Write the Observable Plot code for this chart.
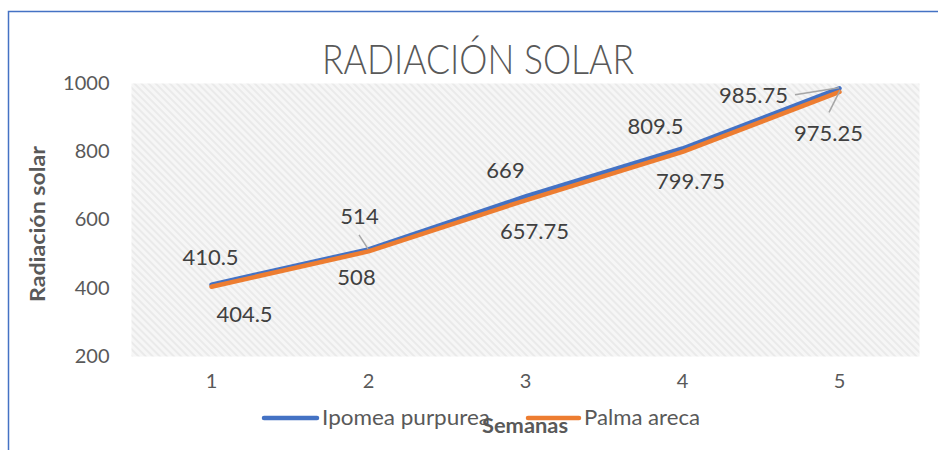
<!DOCTYPE html>
<html><head><meta charset="utf-8">
<script src="https://cdn.jsdelivr.net/npm/d3@7"></script>
<script src="https://cdn.jsdelivr.net/npm/@observablehq/plot@0.6"></script>
<style>
body{margin:0;background:#fff;}
#chart svg{display:block;font-family:Lato, "Open Sans", sans-serif;}
</style></head><body>
<svg width="0" height="0" style="position:absolute">
<defs><pattern id="hatch" width="5" height="5" patternUnits="userSpaceOnUse" patternTransform="rotate(-45)">
<rect width="5" height="5" fill="#f6f6f6"/><rect width="2" height="5" fill="#eaeaea"/></pattern></defs></svg>
<div id="chart"></div>
<script>
const weeks = [1, 2, 3, 4, 5];
const ipomea = [410.5, 514, 669, 809.5, 985.75];
const palma = [404.5, 508, 657.75, 799.75, 975.25];
const yTicks = [200, 400, 600, 800, 1000];
const seriesNames = ["Ipomea purpurea", "Palma areca"];
const colors = ["#4472C4", "#ED7D31"];
const title = "RADIACIÓN SOLAR";
const xTitle = "Semanas";
const yTitle = "Radiación solar";

// label pixel offsets (style only)
const ipomeaOff = [[-1,-27],[-9,-32],[-20,-26],[-27,-22],[-86,8]];
const palmaOff = [[33,28],[-12,27],[9,32],[8,30],[-11,42]];

const idx = weeks.map((_, i) => i);
const rowsA = idx.map(i => ({week: weeks[i], value: ipomea[i]}));
const rowsB = idx.map(i => ({week: weeks[i], value: palma[i]}));

const labelMarks = [];
idx.forEach(i => {
  labelMarks.push(Plot.text([rowsA[i]], {x: "week", y: "value", text: d => String(d.value),
    dx: ipomeaOff[i][0], dy: ipomeaOff[i][1], fill: "#404040", fontSize: 22}));
  labelMarks.push(Plot.text([rowsB[i]], {x: "week", y: "value", text: d => String(d.value),
    dx: palmaOff[i][0], dy: palmaOff[i][1], fill: "#404040", fontSize: 22}));
});

const plot = Plot.plot({
  width: 938, height: 450,
  marginLeft: 131, marginRight: 19, marginTop: 83, marginBottom: 94,
  style: {fontFamily: "Lato, 'Open Sans', sans-serif", fontSize: "20px", color: "#595959", background: "transparent"},
  x: {type: "point", domain: weeks, padding: 0.5, label: null, tickSize: 0, tickPadding: 17},
  y: {domain: [200, 1000], ticks: yTicks, tickFormat: d => String(d), label: null, tickSize: 0, tickPadding: 22},
  marks: [
    Plot.frame({fill: "url(#hatch)", stroke: "none"}),
    Plot.line(rowsA, {x: "week", y: "value", stroke: colors[0], strokeWidth: 4.5, strokeLinecap: "round"}),
    Plot.line(rowsB, {x: "week", y: "value", stroke: colors[1], strokeWidth: 4.5, strokeLinecap: "round"}),
    ...labelMarks
  ]
});
document.getElementById("chart").appendChild(plot);

const svg = d3.select(plot);
const sx = plot.scale("x"), sy = plot.scale("y");
// leader lines: [series, index, startOffset, endOffset]
const leaders = [[ipomea, 1, [-9,-14], [0,0]], [ipomea, 4, [-44,7], [0,0]], [palma, 4, [-10,21], [1,-1]]];
leaders.forEach(([s, i, a, b]) => {
  const px = sx.apply(weeks[i]), py = sy.apply(s[i]);
  svg.append("line").attr("x1", px + a[0]).attr("y1", py + a[1]).attr("x2", px + b[0]).attr("y2", py + b[1])
    .attr("stroke", "#a6a6a6").attr("stroke-width", 1.5);
});

// chart border
svg.append("path").attr("d", "M8.5,450V11.5H938").attr("fill", "none").attr("stroke", "#4472C4").attr("stroke-width", 1.5);

// title
svg.append("text").attr("x", 478).attr("y", 74).attr("text-anchor", "middle")
  .attr("font-size", 42).attr("font-weight", 300).attr("fill", "#595959")
  .attr("textLength", 312).attr("lengthAdjust", "spacingAndGlyphs").text(title);

// y title
svg.append("text").attr("transform", "translate(45,224) rotate(-90)").attr("text-anchor", "middle")
  .attr("font-size", 21).attr("font-weight", "bold").attr("fill", "#595959")
  .attr("textLength", 156).attr("lengthAdjust", "spacingAndGlyphs").text(yTitle);

// legend
const leg = [[264, 317, 322, 168], [528, 579, 584, 116]];
leg.forEach((p, k) => {
  svg.append("line").attr("x1", p[0]).attr("x2", p[1]).attr("y1", 418).attr("y2", 418)
    .attr("stroke", colors[k]).attr("stroke-width", 4.5).attr("stroke-linecap", "round");
  svg.append("text").attr("x", p[2]).attr("y", 425).attr("text-anchor", "start")
    .attr("font-size", 21).attr("fill", "#595959")
    .attr("textLength", p[3]).attr("lengthAdjust", "spacingAndGlyphs").text(seriesNames[k]);
});
// x title
svg.append("text").attr("x", 525).attr("y", 433).attr("text-anchor", "middle")
  .attr("font-size", 21).attr("font-weight", "bold").attr("fill", "#595959")
  .attr("textLength", 86).attr("lengthAdjust", "spacingAndGlyphs").text(xTitle);
</script>
</body></html>
